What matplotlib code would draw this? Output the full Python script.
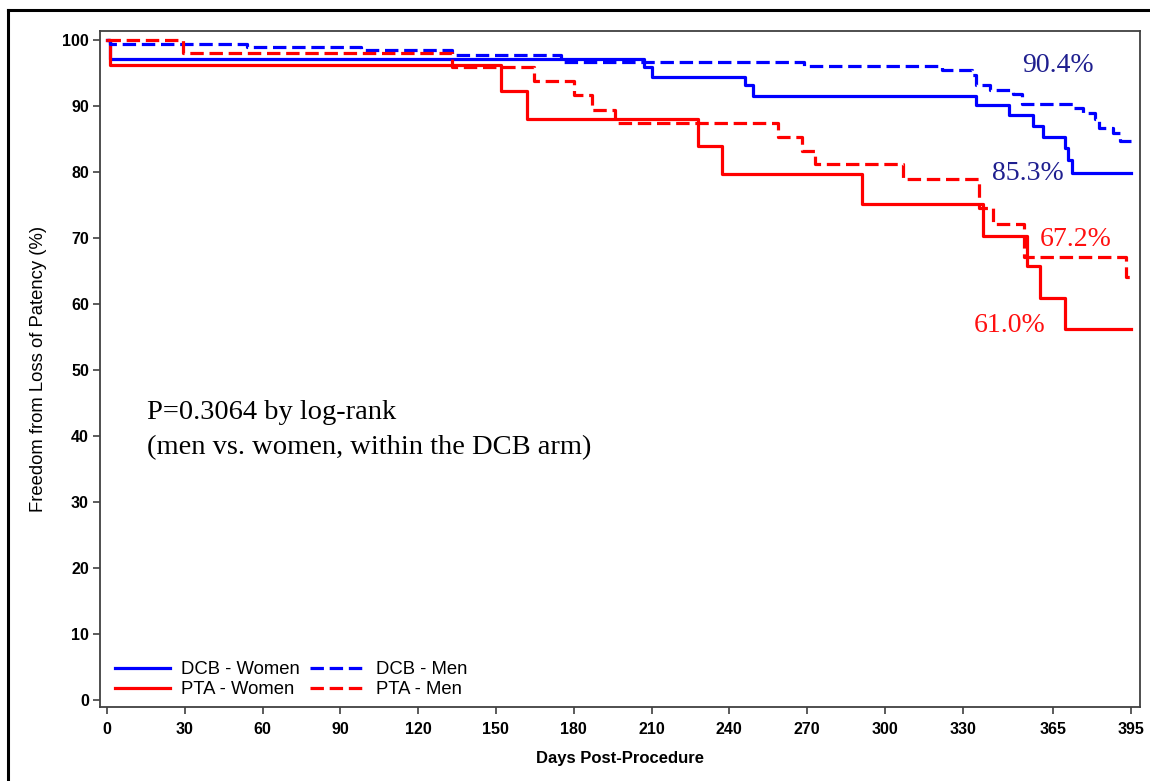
import matplotlib
matplotlib.use("Agg")
import matplotlib.pyplot as plt
from matplotlib.lines import Line2D

# Kaplan-Meier step data (days, freedom from loss of patency %)
dcb_women_t = [0, 1, 207, 210, 246, 249, 335, 348, 357, 361, 369.5, 370.6, 372, 395]
dcb_women_s = [100, 97.2, 96.0, 94.4, 93.2, 91.6, 90.2, 88.6, 87.0, 85.3, 83.7, 81.8, 79.9, 79.9]

dcb_men_t = [0, 1, 54, 98, 133, 175, 269, 322, 333.5, 335, 340.5, 349.5, 353,
             372.5, 376.4, 381, 382.6, 388, 390.6, 395]
dcb_men_s = [100, 99.5, 99.0, 98.5, 97.7, 96.7, 96.1, 95.5, 94.7, 93.2, 92.5, 91.9, 90.4,
             89.7, 88.9, 88.0, 86.7, 85.9, 84.8, 84.8]

pta_women_t = [0, 1, 152, 162, 228, 237, 291, 337.7, 354.7, 360, 369.5, 395]
pta_women_s = [100, 96.2, 92.3, 88.1, 83.9, 79.8, 75.2, 70.3, 65.8, 61.0, 56.3, 56.3]

pta_men_t = [0, 29.3, 133, 164.7, 180, 187, 196, 258.8, 268, 273, 307, 336.4,
             341.7, 353.6, 393, 395]
pta_men_s = [100, 98.1, 96.0, 93.8, 91.7, 89.5, 87.5, 85.3, 83.2, 81.2, 79.0, 74.5,
             72.2, 67.2, 64.1, 64.1]

x_ticks = [0, 30, 60, 90, 120, 150, 180, 210, 240, 270, 300, 330, 365, 395]
y_ticks = [0, 10, 20, 30, 40, 50, 60, 70, 80, 90, 100]

# 12-month labels: (text, day, pct, colour)
labels = [("90.4%", 352.9, 96.1, "#1f1f8f"),
          ("85.3%", 341.3, 79.8, "#1f1f8f"),
          ("67.2%", 359.8, 69.8, "#ff1010"),
          ("61.0%", 334.4, 56.8, "#ff1010")]

fig = plt.figure(figsize=(11.5, 7.81), dpi=100)
ax = fig.add_axes([100 / 1150, 1 - 707 / 781, 1040 / 1150, 676 / 781])

lw = 2.3
dash = (0, (4.2, 1.8))
ax.step(dcb_women_t, dcb_women_s, where="post", color="#0000ff", lw=lw, label="DCB - Women")
ax.step(pta_women_t, pta_women_s, where="post", color="#ff0000", lw=lw, label="PTA - Women")
ax.step(dcb_men_t, dcb_men_s, where="post", color="#0000ff", lw=lw, ls=dash, label="DCB - Men")
ax.step(pta_men_t, pta_men_s, where="post", color="#ff0000", lw=lw, ls=dash, label="PTA - Men")

ax.set_xlim(-2.7, 398.4)
ax.set_ylim(-1.06, 101.4)
ax.set_xticks(x_ticks)
ax.set_yticks(y_ticks)

for sp in ax.spines.values():
    sp.set_color("#404040")
    sp.set_linewidth(1.3)
ax.tick_params(direction="out", length=5, width=1.2, color="#404040")
ax.tick_params(axis="x", pad=6)
ax.tick_params(axis="y", pad=3)
for t in ax.get_xticklabels() + ax.get_yticklabels():
    t.set_fontfamily("Liberation Sans")
    t.set_fontweight("bold")
    t.set_fontsize(11.5)

ax.set_xlabel("Days Post-Procedure", fontfamily="Liberation Sans", fontweight="bold",
              fontsize=12, labelpad=10)
ax.set_ylabel("Freedom from Loss of Patency (%)", fontfamily="Liberation Sans",
              fontsize=13.3, labelpad=11)

for txt, x, y, c in labels:
    ax.text(x, y, txt, color=c, fontfamily="Liberation Serif", fontsize=20,
            ha="left", va="center")

ax.text(15.4, 43.6, "P=0.3064 by log-rank", fontfamily="Liberation Serif",
        fontsize=20.5, ha="left", va="center")
ax.text(15.4, 38.3, "(men vs. women, within the DCB arm)", fontfamily="Liberation Serif",
        fontsize=20.5, ha="left", va="center")

h, l = ax.get_legend_handles_labels()
leg = ax.legend(h, l, ncol=2, frameon=False,
                loc="lower left", bbox_to_anchor=(0.014, 0.013), borderpad=0,
                borderaxespad=0, handlelength=3.0, handletextpad=0.6,
                columnspacing=0.55, labelspacing=0.15,
                prop={"family": "Liberation Sans", "size": 13.3})

# outer frame (top and left edges)
fig.add_artist(Line2D([8 / 1150, 8 / 1150], [0, 1 - 10 / 781], color="black", lw=2.2,
                      transform=fig.transFigure))
fig.add_artist(Line2D([8 / 1150, 1], [1 - 10 / 781, 1 - 10 / 781], color="black", lw=2.2,
                      transform=fig.transFigure))

fig.savefig("out.png", dpi=100)
